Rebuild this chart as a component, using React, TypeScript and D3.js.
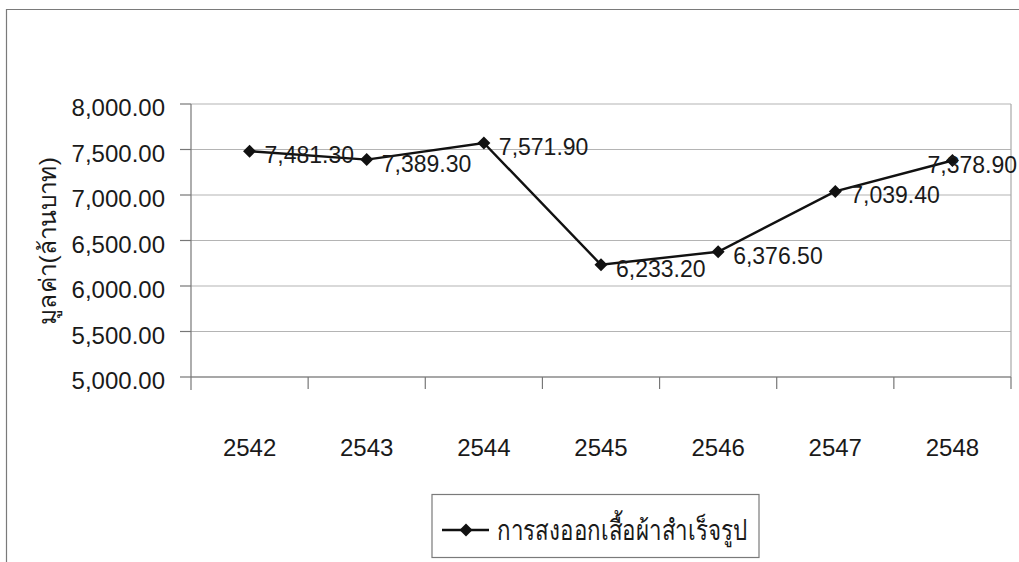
import React from "react";
import * as d3 from "d3";

// Annual export value of ready-made garments (million baht)
const years = ["2542", "2543", "2544", "2545", "2546", "2547", "2548"];
const exportValues = [7481.3, 7389.3, 7571.9, 6233.2, 6376.5, 7039.4, 7378.9];
const yTicks = [5000, 5500, 6000, 6500, 7000, 7500, 8000];
const seriesName = "การสงออกเสื้อผ้าสำเร็จรูป";
const yTitle = "มูลค่า(ล้านบาท)";

const W = 1019;
const H = 562;
const plot = { left: 191, right: 1011, top: 104, bottom: 377 };
const FONT = "'Liberation Sans', Arial, 'Noto Sans', sans-serif";

const fmt = d3.format(",.2f");

export default function App() {
  const x = d3.scaleBand<string>().domain(years).range([plot.left, plot.right]).padding(0);
  const y = d3.scaleLinear().domain([5000, 8000]).range([plot.bottom, plot.top]);
  const cx = (yr: string) => (x(yr) as number) + x.bandwidth() / 2;

  const line = d3
    .line<number>()
    .x((_, i) => cx(years[i]))
    .y((v) => y(v));

  const diamond = (px: number, py: number, r = 6.5) =>
    `M${px},${py - r}L${px + r},${py}L${px},${py + r}L${px - r},${py}Z`;

  const labelWidth = 88;

  return (
    <div style={{ position: "absolute", left: 0, top: 0, width: W, height: H, background: "#fff" }}>
      <svg width={W} height={H} style={{ display: "block" }} fontFamily={FONT}>
        <rect x={0} y={0} width={W} height={H} fill="#fff" />
        {/* chart area frame, running off the right and bottom edges */}
        <path d={`M6.5,${H + 2}V9.5H${W + 2}`} fill="none" stroke="#7a7a7a" strokeWidth={1.2} />

        {/* horizontal gridlines */}
        {yTicks.map((t) => (
          <line key={t} x1={plot.left} x2={plot.right} y1={y(t)} y2={y(t)} stroke="#b4b4b4" strokeWidth={1.2} />
        ))}
        {/* plot right border */}
        <line x1={plot.right} x2={plot.right} y1={plot.top} y2={plot.bottom} stroke="#a8a8a8" strokeWidth={1.2} />

        {/* value axis */}
        <line x1={plot.left} x2={plot.left} y1={plot.top} y2={plot.bottom + 13} stroke="#777" strokeWidth={1.2} />
        {yTicks.map((t) => (
          <g key={"yt" + t}>
            <line x1={plot.left - 11} x2={plot.left} y1={y(t)} y2={y(t)} stroke="#777" strokeWidth={1.2} />
            <text x={165} y={y(t) + 12} fontSize={24} textAnchor="end" fill="#1a1a1a">
              {fmt(t)}
            </text>
          </g>
        ))}

        {/* category axis */}
        <line x1={plot.left} x2={plot.right} y1={plot.bottom} y2={plot.bottom} stroke="#777" strokeWidth={1.2} />
        {years.map((yr) => (
          <g key={yr}>
            <line
              x1={(x(yr) as number) + x.bandwidth()}
              x2={(x(yr) as number) + x.bandwidth()}
              y1={plot.bottom}
              y2={plot.bottom + 12}
              stroke="#777"
              strokeWidth={1.2}
            />
            <text x={cx(yr)} y={456} fontSize={24} textAnchor="middle" fill="#1a1a1a">
              {yr}
            </text>
          </g>
        ))}

        {/* axis title */}
        <text
          transform={`translate(56,241) rotate(-90)`}
          fontSize={24}
          textAnchor="middle"
          textLength={168}
          lengthAdjust="spacingAndGlyphs"
          fill="#1a1a1a"
        >
          {yTitle}
        </text>

        {/* series */}
        <path d={line(exportValues) || ""} fill="none" stroke="#111" strokeWidth={2.4} />
        {exportValues.map((v, i) => {
          const px = cx(years[i]);
          const py = y(v);
          return <path key={"m" + i} d={diamond(px, py)} fill="#111" />;
        })}
        {exportValues.map((v, i) => {
          const px = cx(years[i]);
          const py = y(v);
          const overflow = px + 15 + labelWidth > W - 4;
          return (
            <text
              key={"l" + i}
              x={overflow ? W - 2 : px + 15}
              y={py + 12}
              fontSize={23}
              textAnchor={overflow ? "end" : "start"}
              fill="#1a1a1a"
            >
              {fmt(v)}
            </text>
          );
        })}

        {/* legend */}
        <rect x={432} y={494.5} width={327} height={63} fill="#fff" stroke="#7a7a7a" strokeWidth={1.2} />
        <line x1={442} x2={489} y1={530} y2={530} stroke="#111" strokeWidth={2.4} />
        <path d={diamond(466, 530)} fill="#111" />
        <text
          x={497}
          y={540}
          fontSize={28}
          textLength={250}
          lengthAdjust="spacingAndGlyphs"
          fill="#1a1a1a"
        >
          {seriesName}
        </text>
      </svg>
    </div>
  );
}
